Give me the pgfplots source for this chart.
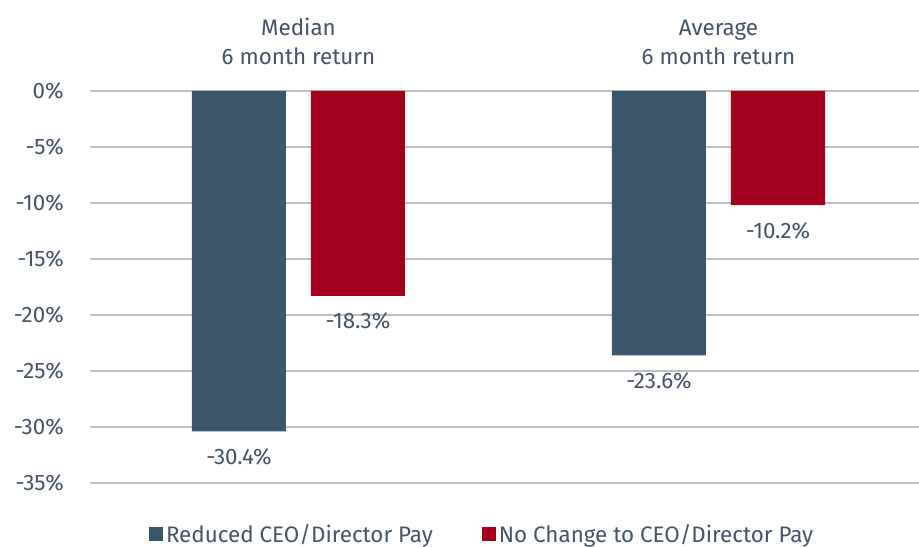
\documentclass[border=0pt]{standalone}
\usepackage{pgfplots}
\pgfplotsset{compat=1.18}
\usepackage{fontspec}
\setmainfont{Fira Sans}
\definecolor{txt}{HTML}{44546A}
\definecolor{cblue}{HTML}{3A566B}
\definecolor{cred}{HTML}{A5001E}
\definecolor{grid}{HTML}{D9D9D9}
\begin{document}
\begin{tikzpicture}
\useasboundingbox (0,0) rectangle (689.25pt,409.5pt);
\begin{axis}[
  at={(67.5pt,47.25pt)}, anchor=south west,
  scale only axis, width=622.5pt, height=294pt,
  xmin=-0.4964, xmax=1.4798, ymin=-35, ymax=0,
  ybar=18.75pt, bar width=70.5pt,
  axis line style={draw=none},
  xtick=\empty,
  ytick={-35,-30,-25,-20,-15,-10,-5,0},
  yticklabels={-35\%,-30\%,-25\%,-20\%,-15\%,-10\%,-5\%,0\%},
  tick style={draw=none},
  ymajorgrids, grid style={grid, line width=1.2pt},
  yticklabel style={anchor=east, inner sep=0pt, xshift=-19.5pt, text=txt, font=\fontsize{16.8}{19}\selectfont},
  clip=false,
  point meta=explicit symbolic,
  nodes near coords,
  every node near coord/.append style={anchor=north, inner sep=0pt, yshift=-12.5pt, text=txt, font=\fontsize{16.8}{19}\selectfont},
  legend style={at={(0.473,-0.13)}, anchor=center, draw=none, legend columns=2,
    font=\fontsize{16.8}{19}\selectfont, text=txt,
    /tikz/every even column/.append style={column sep=35pt}},
  legend image code/.code={\fill[#1] (0pt,-5.25pt) rectangle (10.5pt,5.25pt);},
]
\addplot[fill=cblue, draw=none] coordinates {(0,-30.4) [-30.4\%] (1,-23.6) [-23.6\%]};
\addplot[fill=cred, draw=none] coordinates {(0,-18.3) [-18.3\%] (1,-10.2) [-10.2\%]};
\legend{Reduced CEO/Director Pay, No Change to CEO/Director Pay}
\node[anchor=south, inner sep=0pt, yshift=19.5pt, align=center, text=txt, font=\fontsize{16.8}{21.75}\selectfont] at (axis cs:0,0) {Median\\6 month return};
\node[anchor=south, inner sep=0pt, yshift=19.5pt, align=center, text=txt, font=\fontsize{16.8}{21.75}\selectfont] at (axis cs:1,0) {Average\\6 month return};
\end{axis}
\end{tikzpicture}
\end{document}
